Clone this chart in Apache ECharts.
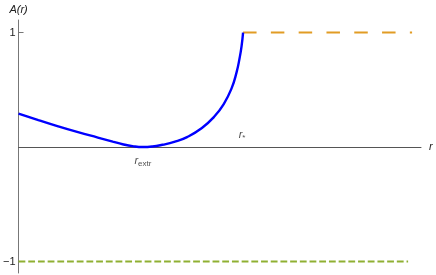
<!DOCTYPE html>
<html><head><meta charset="utf-8">
<script src="https://cdn.jsdelivr.net/npm/echarts@6/dist/echarts.min.js"></script>
<style>html,body{margin:0;padding:0;background:#fff}#c{width:436px;height:275px}</style>
</head><body><div id="c"></div>
<script>
// Blue curve A(r)
const rValues = [0, 0.2, 0.4, 0.6, 0.8, 0.95, 1.05, 1.15, 1.255, 1.35, 1.45, 1.57, 1.70, 1.85, 1.97, 2.07, 2.15, 2.20, 2.23, 2.25, 2.265];
const aValues = [0.293, 0.236, 0.181, 0.130, 0.083, 0.048, 0.025, 0.008, 0.0, 0.005, 0.020, 0.045, 0.087, 0.166, 0.262, 0.376, 0.515, 0.655, 0.777, 0.882, 1.0];
// Orange dashed: A = 1 beyond r_*
const orangeR = [2.265, 3.97];
const orangeA = [1, 1];
// Green dashed: A = -1
const greenR = [0, 3.93];
const greenA = [-1, -1];
// Markers on r axis
const rExtr = 1.255;
const rStar = 2.265;
const yTicks = [-1, 1];

const zip = (xs, ys) => xs.map((x, i) => [x, ys[i]]);
const chart = echarts.init(document.getElementById('c'), null, {renderer: 'canvas'});
const axisColor = '#555';
const font = 'Liberation Sans, Arial, sans-serif';
chart.setOption({
  animation: false,
  grid: {left: 15, right: 15, top: 20, bottom: 2, containLabel: false},
  xAxis: {
    type: 'value', min: 0, max: 4.06,
    axisLine: {show: true, onZero: true, lineStyle: {color: axisColor, width: 1}},
    axisTick: {show: false}, axisLabel: {show: false}, splitLine: {show: false},
    name: 'r', nameLocation: 'end', nameGap: 8,
    nameTextStyle: {fontFamily: font, fontStyle: 'italic', fontSize: 11, color: '#222', verticalAlign: 'middle'}
  },
  yAxis: {
    type: 'value', min: -1.1, max: 1.11,
    axisLine: {show: true, onZero: false, lineStyle: {color: '#777', width: 1}},
    axisTick: {show: true, inside: true, length: 5, customValues: yTicks, lineStyle: {color: '#777'}},
    axisLabel: {show: true, customValues: yTicks, margin: 3, fontFamily: font, fontSize: 11, color: '#222',
      formatter: v => v < 0 ? '\u2212' + Math.abs(v) : String(v)},
    splitLine: {show: false},
    name: 'A(r)', nameLocation: 'end', nameGap: 5,
    nameTextStyle: {fontFamily: font, fontStyle: 'italic', fontSize: 11, color: '#222', align: 'center'}
  },
  series: [
    {type: 'line', data: zip(rValues, aValues), showSymbol: false, smooth: true, sampling: null,
      lineStyle: {color: '#0000ff', width: 2.4}, z: 3},
    {type: 'line', data: zip(orangeR, orangeA), showSymbol: false,
      lineStyle: {color: '#E19C24', width: 2, type: [13.5, 14.3], cap: 'butt'}, z: 2},
    {type: 'line', data: zip(greenR, greenA), showSymbol: false,
      lineStyle: {color: '#8FB032', width: 2, type: [6.8, 2.9], cap: 'butt'}, z: 2},
    {type: 'scatter', symbolSize: 0, silent: true, z: 4,
      data: [
        {value: [rExtr, 0], label: {show: true, position: 'bottom', distance: 7,
          formatter: '{a|r}{b|extr}'}},
        {value: [rStar, 0], label: {show: true, position: 'top', distance: 5, offset: [-1, 0],
          formatter: '{a|r}{b|*}'}}
      ],
      label: {fontFamily: font, color: '#222',
        rich: {
          a: {fontFamily: font, fontStyle: 'italic', fontSize: 11, color: '#222', lineHeight: 14},
          b: {fontFamily: font, fontSize: 8, color: '#222', lineHeight: 14, verticalAlign: 'bottom', padding: [5, 0, 0, 0]}
        }}
    }
  ]
});
</script></body></html>
